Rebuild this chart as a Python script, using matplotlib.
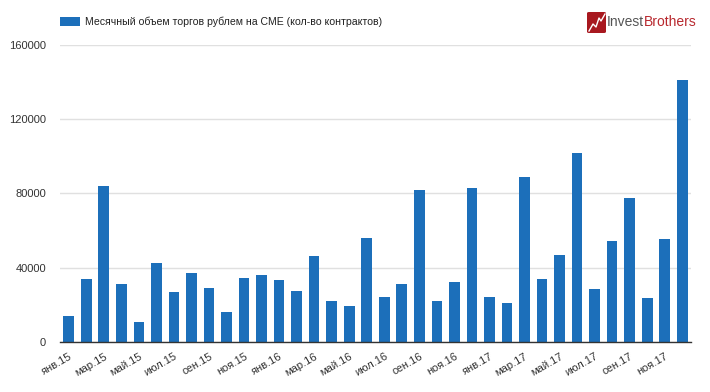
import matplotlib
matplotlib.use("Agg")
import matplotlib.pyplot as plt
from matplotlib.patches import FancyBboxPatch
from matplotlib.lines import Line2D

plt.rcParams['font.family'] = ['Liberation Sans', 'DejaVu Sans']

# monthly volume, Jan 2015 .. Dec 2017
months = ['янв', 'фев', 'мар', 'апр', 'май', 'июн', 'июл', 'авг', 'сен', 'окт', 'ноя', 'дек']
years = ['15', '16', '17']
labels = [m + '.' + y for y in years for m in months]
volume = [13800, 33900, 84100, 31300, 10700, 42200, 27000, 37000, 28900, 16100, 34300, 35900,
          33400, 27300, 46300, 22200, 19100, 55700, 24300, 30900, 81800, 21800, 32300, 82700,
          24300, 21100, 88600, 33600, 46600, 101700, 28600, 54500, 77500, 23400, 55200, 140900]
legend_label = 'Месячный объем торгов рублем на CME (кол-во контрактов)'
yticks = [0, 40000, 80000, 120000, 160000]

bar_color = '#1c6fba'

fig = plt.figure(figsize=(7.10, 3.92), dpi=100)
ax = fig.add_axes([60/710, 1 - 341.7/392, 631/710, 296.7/392])

x = range(len(volume))
ax.bar(x, volume, width=0.61, color=bar_color, label=legend_label, zorder=3)

ax.set_xlim(-0.5, len(volume) - 0.5)
ax.set_ylim(0, 160000)
ax.set_yticks(yticks)
ax.set_yticklabels([str(v) for v in yticks])
ax.yaxis.grid(True, color='#e0e0e0', linewidth=1, zorder=0)
ax.set_axisbelow(True)

ax.set_xticks(list(x)[::2])
ax.set_xticklabels(labels[::2], rotation=30, ha='right', rotation_mode='anchor')
ax.tick_params(axis='both', length=0, labelsize=8, colors='#333333')
ax.tick_params(axis='y', pad=10)
ax.tick_params(axis='x', pad=7)

for side in ['top', 'right', 'left']:
    ax.spines[side].set_visible(False)
ax.spines['bottom'].set_color('#333333')
ax.spines['bottom'].set_linewidth(1)
ax.spines['bottom'].set_zorder(4)

fig.legend(loc='center left', bbox_to_anchor=(60/710, 1 - 22/392), frameon=False,
           borderpad=0, borderaxespad=0, handlelength=1.9, handleheight=0.95,
           handletextpad=0.5, fontsize=7.6, labelcolor='#222222')

# logo
W, H = 710, 392
icon = FancyBboxPatch((587/W, 1 - 33/H), 19/W, 21/H, boxstyle='round,pad=0,rounding_size=0.003',
                      transform=fig.transFigure, facecolor='#a8181f', edgecolor='none')
fig.patches.append(icon)
zx = [589, 593, 596, 599, 601, 605]
zy = [31, 24, 27, 18, 21, 14]
fig.lines.append(Line2D([v/W for v in zx], [1 - v/H for v in zy], transform=fig.transFigure,
                        color='white', linewidth=1.0))
t1 = fig.text(607/W, 1 - 22/H, 'Invest', fontsize=10, color='#555555', va='center', ha='left')
fig.canvas.draw()
bb = t1.get_window_extent()
fig.text(bb.x1/W, 1 - 22/H, 'Brothers', fontsize=10, color='#b8282e', va='center', ha='left')

fig.savefig('out.png', dpi=100)
